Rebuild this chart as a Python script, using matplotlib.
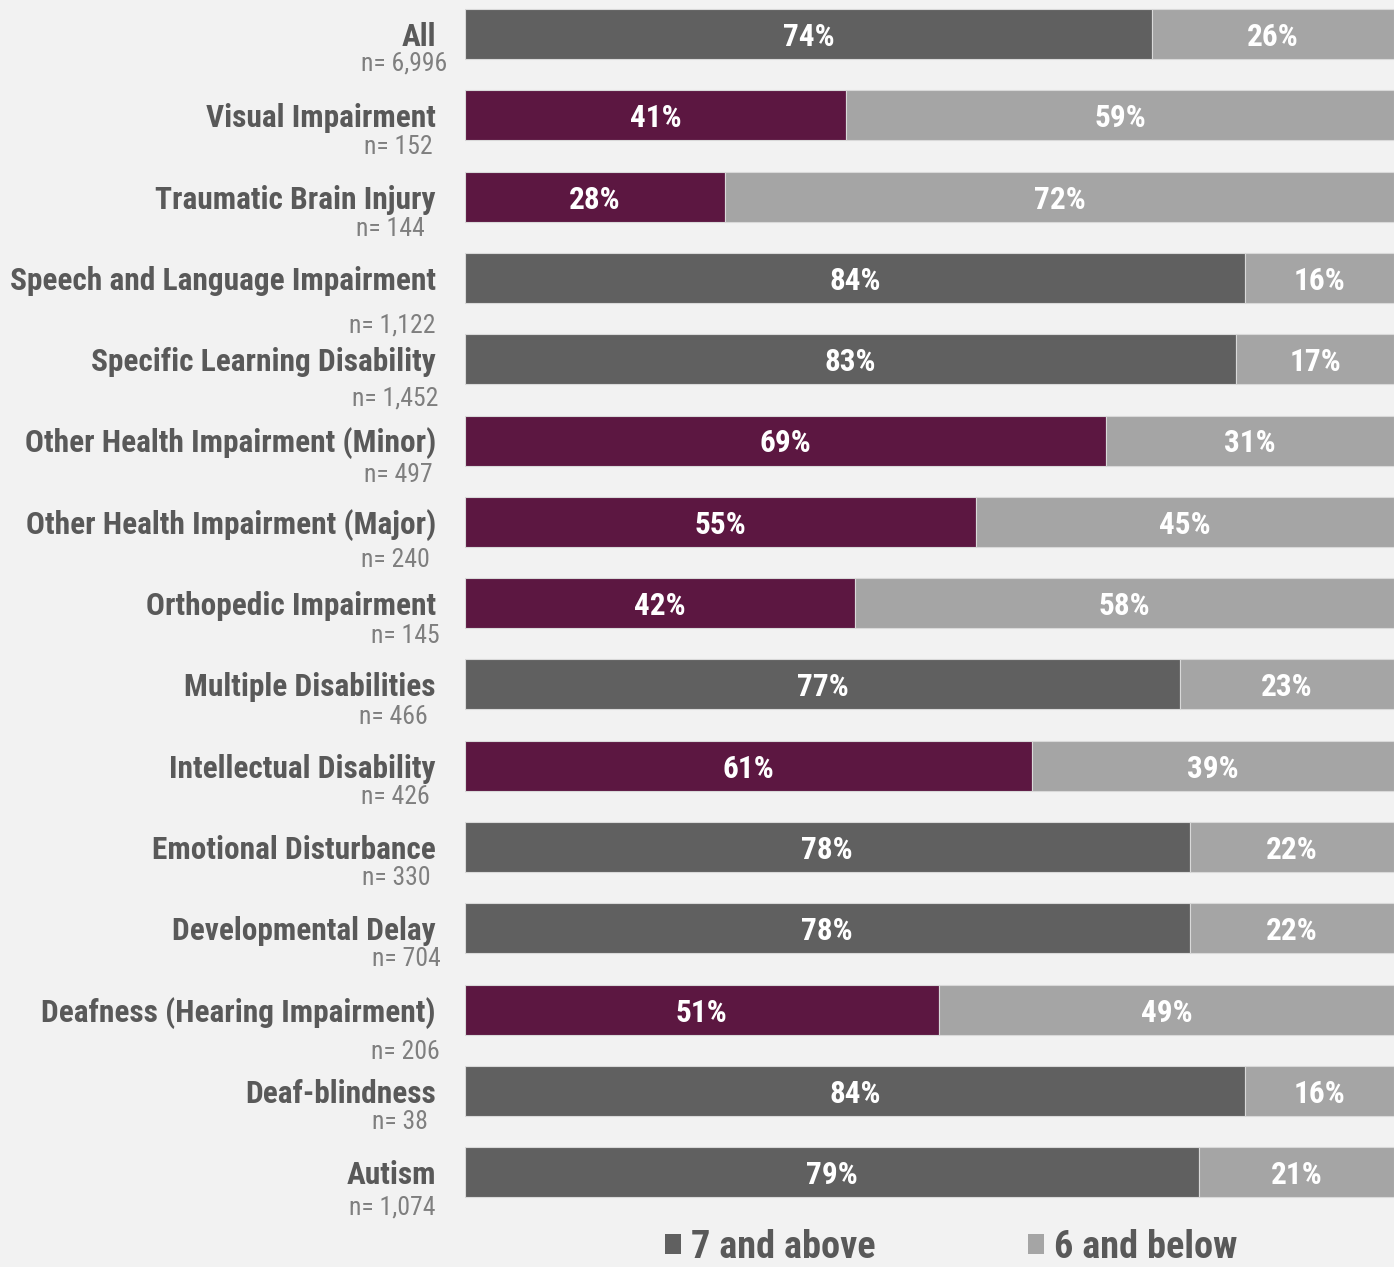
import matplotlib
matplotlib.use("Agg")
import matplotlib.pyplot as plt
from matplotlib.patches import Patch
from matplotlib.transforms import blended_transform_factory
from matplotlib import font_manager

# categories top to bottom
categories = ["All", "Visual Impairment", "Traumatic Brain Injury",
              "Speech and Language Impairment", "Specific Learning Disability",
              "Other Health Impairment (Minor)", "Other Health Impairment (Major)",
              "Orthopedic Impairment", "Multiple Disabilities",
              "Intellectual Disability", "Emotional Disturbance",
              "Developmental Delay", "Deafness (Hearing Impairment)",
              "Deaf-blindness", "Autism"]
n_labels = ["6,996", "152", "144", "1,122", "1,452", "497", "240", "145",
            "466", "426", "330", "704", "206", "38", "1,074"]
above = [74, 41, 28, 84, 83, 69, 55, 42, 77, 61, 78, 78, 51, 84, 79]
below = [26, 59, 72, 16, 17, 31, 45, 58, 23, 39, 22, 22, 49, 16, 21]
# groups flagged in maroon
flagged = [False, True, True, False, False, True, True, True, False, True,
           False, False, True, False, False]

# where each "n=" line sits: (pixels below bar centre, right edge in px)
n_pos = [(30, 447), (32, 433), (32, 425), (48, 436), (39, 438), (34, 433),
         (38, 430), (33, 440), (33, 428), (31, 430), (31, 431), (31, 441),
         (42, 440), (31, 428), (35, 436)]

# pick a narrow sans that has a bold face
bold_fams = {f.name for f in font_manager.fontManager.ttflist
             if isinstance(f.weight, int) and f.weight >= 700 or f.weight == "bold"}
all_fams = {f.name for f in font_manager.fontManager.ttflist}
narrow = "DejaVu Sans"
for cand in ["Arial Narrow", "Liberation Sans Narrow", "Roboto Condensed",
             "PT Sans Narrow", "Archivo Narrow", "Fira Sans Condensed",
             "IBM Plex Sans Condensed", "Open Sans Condensed"]:
    if cand in bold_fams:
        narrow = cand
        break
else:
    for cand in ["Roboto Condensed", "Archivo Narrow", "PT Sans Narrow"]:
        if cand in all_fams:
            narrow = cand
            break
plt.rcParams["font.family"] = [narrow, "DejaVu Sans"]

BG = "#f2f2f2"
DARK = "#606060"
LIGHT = "#a5a5a5"
MAROON = "#5c1741"
TXT = "#595959"
NTXT = "#7f7f7f"

W, H = 1394, 1267
fig = plt.figure(figsize=(W / 100, H / 100), dpi=100, facecolor=BG)
ax_top, ax_bot = 0, 1215
ax = fig.add_axes([465 / W, 1 - ax_bot / H, 1 - 465 / W, (ax_bot - ax_top) / H])
ax.set_facecolor(BG)

pitch = 81.3
y = list(range(len(categories)))
ax.set_ylim((ax_bot - 34) / pitch, (ax_top - 34) / pitch)
ax.set_xlim(0, 100)
ax.axis("off")

first_colors = [MAROON if f else DARK for f in flagged]
ax.barh(y, above, height=50 / pitch, color=first_colors, edgecolor="#d9d9d9", linewidth=0.8)
ax.barh(y, below, left=above, height=50 / pitch, color=LIGHT, edgecolor="#d9d9d9", linewidth=0.8)

# text sits a touch below the geometric centre
nudge = 3 / pitch
for i in y:
    ax.text(above[i] / 2, i + nudge, f"{above[i]}%", ha="center", va="center",
            color="white", fontsize=22.5, fontweight="bold")
    ax.text(above[i] + below[i] / 2, i + nudge, f"{below[i]}%", ha="center", va="center",
            color="white", fontsize=22.5, fontweight="bold")

tr = blended_transform_factory(fig.transFigure, ax.transData)
for i, name in enumerate(categories):
    ax.text(436 / W, i + nudge, name, transform=tr, ha="right", va="center",
            color=TXT, fontsize=22.6, fontweight="bold")
    dy, xr = n_pos[i]
    ax.text(xr / W, i + dy / pitch, f"n= {n_labels[i]}", transform=tr,
            ha="right", va="center", color=NTXT, fontsize=18.5)

handles = [Patch(facecolor=DARK, label="7 and above"),
           Patch(facecolor=LIGHT, label="6 and below")]
leg = fig.legend(handles=handles, loc="center", ncol=2, frameon=False,
                 bbox_to_anchor=(951 / W, 1 - 1247 / H), handlelength=0.42,
                 handleheight=0.42, handletextpad=0.25, columnspacing=4.0,
                 prop={"family": [narrow, "DejaVu Sans"], "weight": "bold", "size": 27.5})
for t in leg.get_texts():
    t.set_color(TXT)

fig.savefig("out.png", dpi=100, facecolor=BG)
